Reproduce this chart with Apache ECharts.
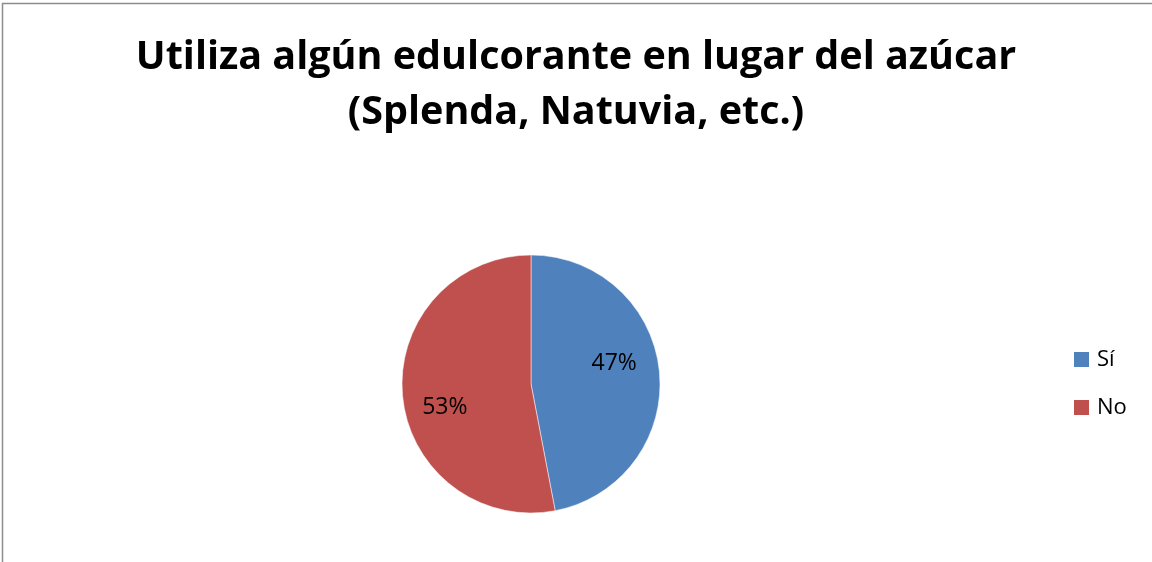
<!DOCTYPE html>
<html>
<head>
<meta charset="utf-8">
<script src="https://cdn.jsdelivr.net/npm/echarts@6/dist/echarts.min.js"></script>
<style>
  html, body { margin: 0; padding: 0; background: #fff; }
  #chart { width: 1152px; height: 562px; }
</style>
</head>
<body>
<div id="chart"></div>
<script>
// Respuestas a la pregunta sobre el uso de edulcorantes
const categories = ['Sí', 'No'];
const values = [47, 53];
const colors = ['#4F81BD', '#C0504D'];
const labelOffsets = [[16, -14], [-19, 17]];

const chart = echarts.init(document.getElementById('chart'), null, { renderer: 'canvas' });

const data = categories.map((name, i) => ({
  name,
  value: values[i],
  itemStyle: { color: colors[i] },
  label: { offset: labelOffsets[i] }
}));

chart.setOption({
  animation: false,
  backgroundColor: '#fff',
  title: {
    text: 'Utiliza algún edulcorante en lugar del azúcar\n(Splenda, Natuvia, etc.)',
    left: 'center',
    top: 25,
    textStyle: {
      fontFamily: 'Open Sans',
      fontWeight: 'bold',
      fontSize: 39.5,
      lineHeight: 55,
      color: '#000'
    }
  },
  legend: {
    orient: 'vertical',
    left: 1074,
    top: 348.5,
    padding: 0,
    itemWidth: 15,
    itemHeight: 15,
    itemGap: 26,
    icon: 'rect',
    selectedMode: false,
    itemStyle: { borderWidth: 0 },
    textStyle: { fontFamily: 'Open Sans', fontSize: 22, color: '#000', padding: [0, 0, 0, 3] },
    data: categories
  },
  graphic: [{
    type: 'rect',
    shape: { x: 2.5, y: 3.5, width: 1300, height: 700 },
    style: { fill: 'none', stroke: '#8c8c8c', lineWidth: 1.5 },
    silent: true
  }],
  series: [{
    type: 'pie',
    center: [531, 384],
    radius: [0, 129],
    startAngle: 90,
    clockwise: true,
    data,
    label: {
      show: true,
      position: 'inside',
      formatter: '{d}%',
      fontFamily: 'Open Sans',
      fontSize: 23,
      color: '#000'
    },
    labelLine: { show: false },
    itemStyle: { borderColor: '#fff', borderWidth: 0.5 },
    emphasis: { disabled: true }
  }]
});
</script>
</body>
</html>
